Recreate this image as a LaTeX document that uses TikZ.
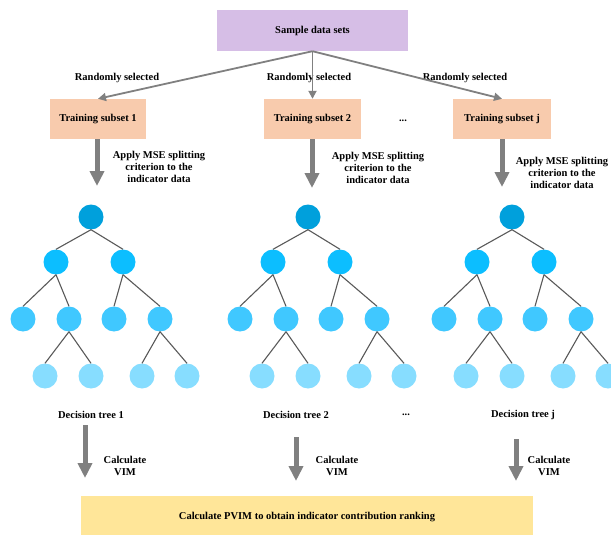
\documentclass[tikz,border=0pt]{standalone}
\usepackage{fontspec}
\setmainfont{Liberation Serif}
\usetikzlibrary{arrows.meta}

\definecolor{sampleclr}{RGB}{214,190,230}
\definecolor{subsetclr}{RGB}{248,203,173}
\definecolor{pvimclr}{RGB}{255,230,153}
\definecolor{rootclr}{RGB}{0,160,220}
\definecolor{lvlone}{RGB}{12,190,255}
\definecolor{lvltwo}{RGB}{64,200,255}
\definecolor{lvlthree}{RGB}{135,221,255}
\definecolor{arrowgray}{RGB}{128,128,128}

\begin{document}
\begin{tikzpicture}[x=1pt, y=-1pt,
    font=\bfseries\fontsize{10.5}{12}\selectfont,
    box/.style={rectangle, minimum height=40pt, align=center},
    lbl/.style={align=center},
    tnode/.style={circle, inner sep=0pt, minimum size=25pt},
    edge/.style={draw=black!65, line width=1.1pt},
    arrow/.style={-{Triangle[length=8pt,width=8pt]}, draw=arrowgray, fill=arrowgray, line width=1.8pt},
    bigarrow/.style={-{Triangle[length=15pt,width=14pt]}, draw=arrowgray, fill=arrowgray, line width=5pt}
]
\useasboundingbox (0,0) rectangle (611,535);

% Sample data
\node[box, fill=sampleclr, minimum width=191pt, minimum height=41pt] (sample) at (312.5,30.5) {Sample data sets};

% Training subsets
\node[box, fill=subsetclr, minimum width=96pt] (sub1) at (98,119) {Training subset 1};
\node[box, fill=subsetclr, minimum width=97pt] (sub2) at (312.5,119) {Training subset 2};
\node[box, fill=subsetclr, minimum width=98pt] (subj) at (502,119) {Training subset j};
\node (dotsa) at (403,121) {...};

% Sampling labels
\node[lbl] (rs1) at (117,77.5) {Randomly selected};
\node[lbl] (rs2) at (309,77.5) {Randomly selected};
\node[lbl] (rs3) at (465,77.5) {Randomly selected};

% Splitting labels
\node[lbl] (mse1) at (159,167) {Apply MSE splitting\\criterion to the\\indicator data};
\node[lbl] (mse2) at (378,168) {Apply MSE splitting\\criterion to the\\indicator data};
\node[lbl] (mse3) at (562,173) {Apply MSE splitting\\criterion to the\\indicator data};

% Decision trees
\foreach \t/\x in {1/91, 2/308, 3/512}{
  \begin{scope}[xshift=\x]
    \node[tnode, fill=rootclr] (r\t) at (0,217) {};
    \node[tnode, fill=lvlone] (a\t) at (-35,262) {};
    \node[tnode, fill=lvlone] (b\t) at (32,262) {};
    \node[tnode, fill=lvltwo] (aa\t) at (-68,319) {};
    \node[tnode, fill=lvltwo] (ab\t) at (-22,319) {};
    \node[tnode, fill=lvltwo] (ba\t) at (23,319) {};
    \node[tnode, fill=lvltwo] (bb\t) at (69,319) {};
    \node[tnode, fill=lvlthree] (aba\t) at (-46,376) {};
    \node[tnode, fill=lvlthree] (abb\t) at (0,376) {};
    \node[tnode, fill=lvlthree] (bba\t) at (51,376) {};
    \node[tnode, fill=lvlthree] (bbb\t) at (96,376) {};
    \draw[edge] (r\t.south) -- (a\t.north);
    \draw[edge] (r\t.south) -- (b\t.north);
    \draw[edge] (a\t.south) -- (aa\t.north);
    \draw[edge] (a\t.south) -- (ab\t.north);
    \draw[edge] (b\t.south) -- (ba\t.north);
    \draw[edge] (b\t.south) -- (bb\t.north);
    \draw[edge] (ab\t.south) -- (aba\t.north);
    \draw[edge] (ab\t.south) -- (abb\t.north);
    \draw[edge] (bb\t.south) -- (bba\t.north);
    \draw[edge] (bb\t.south) -- (bbb\t.north);
  \end{scope}
}

% Tree labels
\node (dt1) at (91,415) {Decision tree 1};
\node (dt2) at (296,415) {Decision tree 2};
\node (dtj) at (523,415) {Decision tree j};
\node (dotsb) at (406,415) {...};

% VIM labels
\node[lbl] (vim1) at (125,466) {Calculate\\VIM};
\node[lbl] (vim2) at (337,466) {Calculate\\VIM};
\node[lbl] (vimj) at (549,466) {Calculate\\VIM};

% Ranking
\node[box, fill=pvimclr, minimum width=452pt, minimum height=43pt] (pvim) at (307,517.5) {Calculate PVIM to obtain indicator contribution ranking};

% Arrow ends
\coordinate (s1) at (97,186);
\coordinate (s2) at (312,188);
\coordinate (sj) at (502,187);
\coordinate (c1a) at (85,425);
\coordinate (c1b) at (85,478);
\coordinate (c2a) at (296,437);
\coordinate (c2b) at (296,481);
\coordinate (cja) at (516,439);
\coordinate (cjb) at (516,481);

% Arrows
\draw[arrow] (sample.south) -- (sub1.north);
\draw[arrow] (sample.south) -- (sub2.north);
\draw[arrow] (sample.south) -- (subj.north);
\draw[bigarrow] (sub1.south -| s1) -- (s1);
\draw[bigarrow] (sub2.south -| s2) -- (s2);
\draw[bigarrow] (subj.south -| sj) -- (sj);
\draw[bigarrow] (c1a) -- (c1b);
\draw[bigarrow] (c2a) -- (c2b);
\draw[bigarrow] (cja) -- (cjb);

\end{tikzpicture}
\end{document}
